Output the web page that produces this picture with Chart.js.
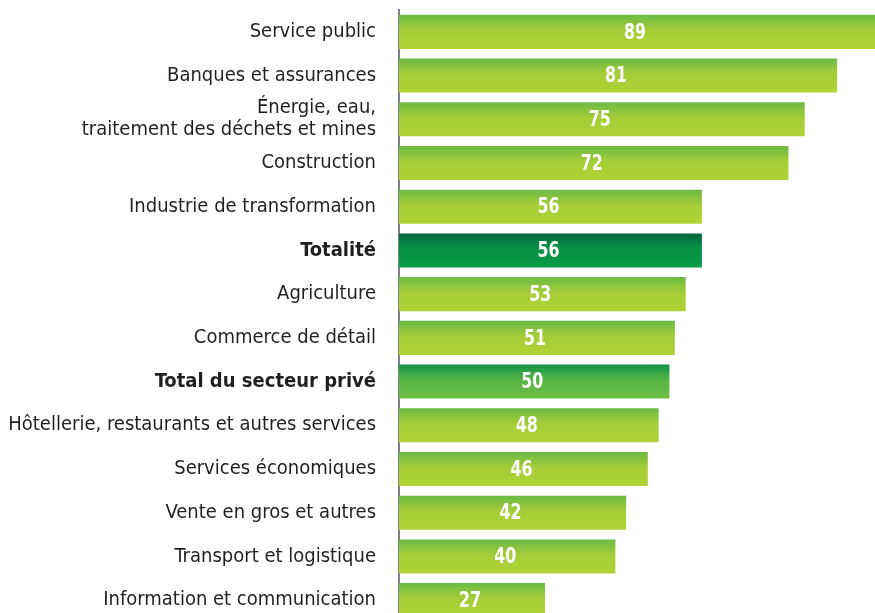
<!DOCTYPE html>
<html>
<head>
<meta charset="utf-8">
<script src="https://cdn.jsdelivr.net/npm/chart.js@4.4.1/dist/chart.umd.min.js"></script>
<style>
html,body{margin:0;padding:0;background:#fff;overflow:hidden;}
#c{display:block;}
</style>
</head>
<body>
<canvas id="c" width="875" height="625" style="width:875px;height:625px"></canvas>
<script>
const categories = [
  'Service public',
  'Banques et assurances',
  ['Énergie, eau,', 'traitement des déchets et mines'],
  'Construction',
  'Industrie de transformation',
  'Totalité',
  'Agriculture',
  'Commerce de détail',
  'Total du secteur privé',
  'Hôtellerie, restaurants et autres services',
  'Services économiques',
  'Vente en gros et autres',
  'Transport et logistique',
  'Information et communication'
];
const values = [89, 81, 75, 72, 56, 56, 53, 51, 50, 48, 46, 42, 40, 27];
const boldIndices = [5, 8];

const FONT = '"DejaVu Sans Condensed", "Liberation Sans Narrow", sans-serif';

function barGradient(context) {
  const chart = context.chart;
  const y = chart.scales.y;
  if (!y || !chart.chartArea) return '#aed136';
  const i = context.dataIndex;
  const center = y.getPixelForValue(i);
  const cat = (chart.chartArea.bottom - chart.chartArea.top) / categories.length;
  const h = cat * 0.78;
  const top = center - h / 2, bottom = center + h / 2;
  const g = chart.ctx.createLinearGradient(0, top, 0, bottom);
  if (i === 5) {
    g.addColorStop(0, '#00643a');
    g.addColorStop(0.4, '#068f45');
    g.addColorStop(1, '#0b9c48');
  } else if (i === 8) {
    g.addColorStop(0, '#109346');
    g.addColorStop(0.45, '#58b546');
    g.addColorStop(1, '#6dbe45');
  } else {
    g.addColorStop(0, '#6cb944');
    g.addColorStop(0.45, '#a5cd39');
    g.addColorStop(1, '#b1d235');
  }
  return g;
}

const valueLabels = {
  id: 'valueLabels',
  afterDatasetsDraw(chart) {
    const ctx = chart.ctx;
    const meta = chart.getDatasetMeta(0);
    const area = chart.chartArea;
    ctx.save();
    ctx.fillStyle = '#ffffff';
    ctx.font = 'bold 22px ' + FONT;
    ctx.textAlign = 'center';
    ctx.textBaseline = 'middle';
    meta.data.forEach((bar, i) => {
      const right = Math.min(bar.x, area.right);
      const cx = (bar.base + right) / 2 - 2;
      ctx.save();
      ctx.translate(cx, bar.y + 1);
      ctx.scale(0.8, 1);
      ctx.fillText(String(values[i]), 0, 0);
      ctx.restore();
    });
    ctx.restore();
  }
};

new Chart(document.getElementById('c'), {
  type: 'bar',
  data: {
    labels: categories,
    datasets: [{
      data: values,
      backgroundColor: barGradient,
      borderWidth: 0,
      barPercentage: 0.78,
      categoryPercentage: 1.0
    }]
  },
  options: {
    indexAxis: 'y',
    responsive: false,
    maintainAspectRatio: false,
    animation: false,
    devicePixelRatio: 1,
    layout: { padding: { top: 10, bottom: 3, left: 0, right: 0 } },
    plugins: { legend: { display: false }, tooltip: { enabled: false } },
    scales: {
      x: {
        display: false,
        min: 0,
        max: 88,
        grid: { display: false }
      },
      y: {
        afterFit(scale) {
          scale.width = 399;
          scale.paddingTop = 0;
          scale.paddingBottom = 0;
        },
        grid: { display: false, drawTicks: false },
        border: { display: true, color: '#808285', width: 2 },
        ticks: {
          autoSkip: false,
          padding: 23,
          color: '#231f20',
          font: (ctx) => ({
            family: FONT,
            size: 20,
            weight: boldIndices.includes(ctx.index) ? 'bold' : 'normal',
            lineHeight: 1.1
          })
        }
      }
    }
  },
  plugins: [valueLabels]
});
</script>
</body>
</html>
